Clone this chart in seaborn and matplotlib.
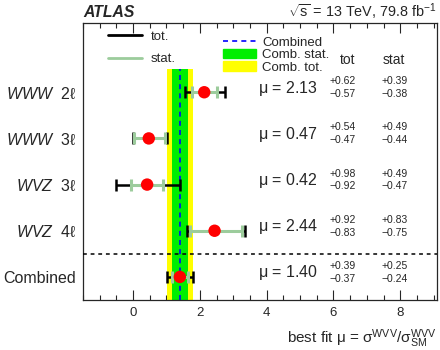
import numpy as np
import pandas as pd
import matplotlib
matplotlib.use('Agg')
import matplotlib.pyplot as plt
import seaborn as sns
from matplotlib.lines import Line2D
from matplotlib.patches import Patch

# values
channels = [r'$\mathit{WWW}$  2$\ell$', r'$\mathit{WWW}$  3$\ell$',
            r'$\mathit{WVZ}$  3$\ell$', r'$\mathit{WVZ}$  4$\ell$', 'Combined']
mu = [2.13, 0.47, 0.42, 2.44, 1.40]
tot_up = [0.62, 0.54, 0.98, 0.92, 0.39]
tot_dn = [0.57, 0.47, 0.92, 0.83, 0.37]
stat_up = [0.39, 0.49, 0.49, 0.83, 0.25]
stat_dn = [0.38, 0.44, 0.47, 0.75, 0.24]
ypos = [4, 3, 2, 1, 0]

df = pd.DataFrame({'channel': channels, 'mu': mu, 'y': ypos,
                   'tot_up': tot_up, 'tot_dn': tot_dn,
                   'stat_up': stat_up, 'stat_dn': stat_dn})
comb = df.iloc[-1]

sns.set_theme(style='ticks')
plt.rcParams['font.family'] = ['Liberation Sans', 'DejaVu Sans']
plt.rcParams['mathtext.fontset'] = 'custom'
plt.rcParams['mathtext.rm'] = 'Liberation Sans'
plt.rcParams['mathtext.it'] = 'Liberation Sans:italic'
plt.rcParams['mathtext.bf'] = 'Liberation Sans:bold'
plt.rcParams['mathtext.default'] = 'regular'

STAT_C = '#9ccc9c'

fig, ax = plt.subplots(figsize=(4.4, 3.5), dpi=100)
fig.subplots_adjust(left=83/440, right=437/440, top=1-23/350, bottom=1-300/350)

# combined bands
band_top = 4.5
ax.fill_betweenx([-0.5, band_top], comb.mu - comb.tot_dn, comb.mu + comb.tot_up,
                 color='#ffff00', lw=0, zorder=1)
ax.fill_betweenx([-0.5, band_top], comb.mu - comb.stat_dn, comb.mu + comb.stat_up,
                 color='#00ee00', lw=0, zorder=2)
ax.plot([comb.mu, comb.mu], [-0.5, band_top], color='#0000ff', ls=(0, (3, 2.5)),
        lw=1.2, zorder=3)

# error bars
ax.errorbar(df.mu, df.y, xerr=[df.tot_dn, df.tot_up], fmt='none', ecolor='black',
            elinewidth=1.8, capsize=4, capthick=1.8, zorder=4)
ax.errorbar(df.mu, df.y, xerr=[df.stat_dn, df.stat_up], fmt='none', ecolor=STAT_C,
            elinewidth=2.2, capsize=4, capthick=2.2, zorder=5)
sns.scatterplot(data=df, x='mu', y='y', color='#ff0000', s=80, edgecolor='none',
                zorder=6, ax=ax, legend=False)

ax.axhline(0.5, color='black', ls=(0, (2.5, 2.5)), lw=1.1, zorder=3)

# numbers on the right
for _, r in df.iterrows():
    ax.text(3.75, r.y + 0.09, rf'$\mu$ = {r.mu:.2f}', fontsize=11.5, va='center', ha='left')
    ax.text(5.87, r.y + 0.24, f'+{r.tot_up:.2f}', fontsize=7.5, va='center')
    ax.text(5.87, r.y - 0.04, f'\u2212{r.tot_dn:.2f}', fontsize=7.5, va='center')
    ax.text(7.45, r.y + 0.24, f'+{r.stat_up:.2f}', fontsize=7.5, va='center')
    ax.text(7.45, r.y - 0.04, f'\u2212{r.stat_dn:.2f}', fontsize=7.5, va='center')
ax.text(6.42, 4.69, 'tot', fontsize=10, ha='center', va='center')
ax.text(7.82, 4.69, 'stat', fontsize=10, ha='center', va='center')

# legends
h1 = [Line2D([], [], color='black', lw=2), Line2D([], [], color=STAT_C, lw=2)]
leg1 = ax.legend(h1, ['tot.', 'stat.'], loc='upper left', bbox_to_anchor=(0.045, 1.005),
                 frameon=False, fontsize=9.5, handlelength=2.6, labelspacing=0.75,
                 handletextpad=0.6, borderaxespad=0.3)
ax.add_artist(leg1)
h2 = [Line2D([], [], color='#0000ff', ls=(0, (3, 2.5)), lw=1.2),
      Patch(color='#00ee00'), Patch(color='#ffff00')]
ax.legend(h2, ['Combined', 'Comb. stat.', 'Comb. tot.'], loc='upper left',
          bbox_to_anchor=(0.37, 0.985), frameon=False, fontsize=9.5, handlelength=2.5,
          handleheight=0.75, labelspacing=0.0, handletextpad=0.45, borderaxespad=0.3)

ax.set_xlim(-1.5, 9.1)
ax.set_ylim(-0.5, 5.5)
ax.set_yticks(ypos)
ax.set_yticklabels(channels, fontsize=11.5)
ax.tick_params(axis='y', length=0, pad=5)
ax.set_xticks([0, 2, 4, 6, 8])
ax.set_xticks(np.arange(-1.5, 9.1, 0.5), minor=True)
ax.tick_params(axis='x', which='both', direction='in', top=True, labelsize=9.5, pad=5)
ax.tick_params(axis='x', which='major', length=7, width=0.8)
ax.tick_params(axis='x', which='minor', length=3.5, width=0.8)
for s in ax.spines.values():
    s.set_linewidth(0.9)
ax.set_ylabel('')
ax.set_xlabel(r'best fit $\mu$ = $\sigma^{WVV}/\sigma^{WVV}_{SM}$', fontsize=11,
              loc='right', labelpad=6)

fig.text(83/440, 1 - 17/350, 'ATLAS', fontsize=11.3, fontweight='bold', style='italic',
         ha='left', va='baseline')
fig.text(437/440, 1 - 17/350, r'$\sqrt{s}$ = 13 TeV, 79.8 fb$^{-1}$', fontsize=10.4,
         ha='right', va='baseline')

fig.savefig('out.png', dpi=100)
